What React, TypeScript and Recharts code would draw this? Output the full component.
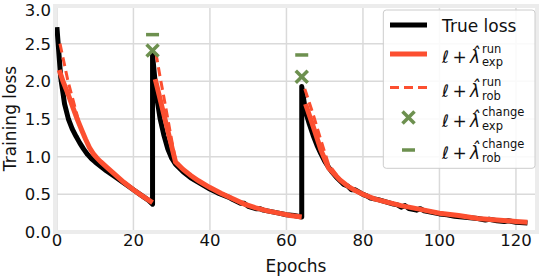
import React from 'react';
import {
  ComposedChart,
  Line,
  Scatter,
  XAxis,
  YAxis,
  CartesianGrid,
  Legend,
  ReferenceArea,
} from 'recharts';

const RED = '#fc4f30';
const GREEN = '#6d904f';
const FONT = '"DejaVu Sans", sans-serif';

const xTicks = [0, 20, 40, 60, 80, 100, 120];
const yTicks = [0, 0.5, 1, 1.5, 2, 2.5, 3];

// [epoch, loss]
const trueLoss: [number, number][] = [
  [0, 2.72], [1, 2.05], [2, 1.7], [3, 1.5], [4, 1.37], [5, 1.27], [6, 1.18], [7, 1.1], [8, 1.03], [9, 0.975],
  [10, 0.93], [11, 0.89], [12, 0.85], [13, 0.81], [15, 0.74], [17.5, 0.65], [20, 0.56], [22, 0.49], [24, 0.42], [25, 0.37],
  [25, 2.35], [26, 1.82], [27, 1.5], [28, 1.28], [29, 1.1], [30, 0.98], [31, 0.9], [33, 0.8], [35, 0.72],
  [37, 0.66], [40, 0.57], [42, 0.52], [43, 0.5], [44, 0.48], [45, 0.46], [46, 0.43], [48, 0.38], [49, 0.38],
  [50, 0.34], [52, 0.31], [53, 0.31], [54, 0.29], [56, 0.27], [58, 0.25], [60, 0.23], [62, 0.22], [64, 0.2],
  [64, 1.93], [65, 1.6], [66, 1.43], [67, 1.28], [68, 1.15], [69, 1.04], [70, 0.94], [71, 0.86], [72, 0.79],
  [73, 0.73], [74, 0.68], [75, 0.63], [76, 0.61], [77, 0.56], [78, 0.56], [79, 0.53], [80, 0.5], [81, 0.48],
  [82, 0.45], [84, 0.43], [86, 0.4], [88, 0.37], [89, 0.36], [90, 0.33], [91, 0.35], [92, 0.31], [94, 0.29],
  [95, 0.31], [96, 0.28], [98, 0.26], [100, 0.24], [102, 0.23], [104, 0.21], [106, 0.2], [108, 0.19],
  [110, 0.18], [112, 0.16], [113, 0.17], [115, 0.15], [117, 0.14], [118, 0.15], [120, 0.13], [123, 0.12],
];

const runExp: [number, number | null][] = [
  [0.6, 2.15], [1.6, 2.0], [3, 1.82], [4.2, 1.65], [5.3, 1.5], [6.5, 1.35], [7.5, 1.23], [8.5, 1.12],
  [9.5, 1.04], [10.5, 0.98], [11.5, 0.93], [13, 0.86], [15, 0.77],
  [17.5, 0.66], [20, 0.56], [22, 0.49], [25, 0.39],
  [25.3, null],
  [25.7, 2.03], [28, 1.55], [31, 0.93], [33, 0.83], [35, 0.75], [37, 0.68], [40, 0.59], [43, 0.51],
  [46, 0.44], [49, 0.37], [52, 0.32], [55, 0.28], [58, 0.25], [61, 0.22], [64, 0.2],
  [64.4, null],
  [65, 1.7], [67, 1.4], [69, 1.09], [71, 0.85], [74, 0.69], [76, 0.61], [78, 0.55], [80, 0.5], [83, 0.44],
  [86, 0.4], [90, 0.35], [93, 0.32], [96, 0.29], [100, 0.25], [105, 0.22], [110, 0.18], [115, 0.16],
  [120, 0.14], [123, 0.13],
];

const runRob: [number, number | null][] = [
  [0.8, 2.5], [2.9, 2.0], [5.7, 1.47], [6.5, 1.35], [7.5, 1.23], [8.5, 1.12], [9.5, 1.04], [10.5, 0.98],
  [11.5, 0.93], [13, 0.86], [15, 0.77], [17.5, 0.66], [20, 0.56], [22, 0.49], [25, 0.39],
  [25.3, null],
  [25.9, 2.37], [27, 2.05], [28, 1.78], [29, 1.5], [30, 1.22], [31, 0.95], [33, 0.83], [35, 0.75],
  [37, 0.68], [40, 0.59], [43, 0.51], [46, 0.44], [49, 0.37], [52, 0.32], [55, 0.28], [58, 0.25],
  [61, 0.22], [64, 0.2],
  [64.4, null],
  [64.8, 1.9], [67, 1.56], [69, 1.22], [71, 0.9], [74, 0.7], [76, 0.61], [78, 0.55], [80, 0.5], [83, 0.44],
  [86, 0.4], [90, 0.35], [93, 0.32], [96, 0.29], [100, 0.25], [105, 0.22], [110, 0.18], [115, 0.16],
  [120, 0.14], [123, 0.13],
];

const changeExp: [number, number][] = [[25, 2.41], [64, 2.06]];
const changeRob: [number, number][] = [[25, 2.62], [64, 2.35]];

const toPts = (arr: [number, number | null][]) => arr.map(([x, y]) => ({ x, y }));

const XMark = (props: any) => {
  const { cx, cy } = props;
  const s = 6;
  return (
    <g stroke={GREEN} strokeWidth={3.5}>
      <line x1={cx - s} y1={cy - s} x2={cx + s} y2={cy + s} />
      <line x1={cx - s} y1={cy + s} x2={cx + s} y2={cy - s} />
    </g>
  );
};

const HMark = (props: any) => {
  const { cx, cy } = props;
  return <line x1={cx - 6.5} y1={cy} x2={cx + 6.5} y2={cy} stroke={GREEN} strokeWidth={3.5} />;
};

const LamText = ({ y, sup, sub }: { y: number; sup: string; sub: string }) => (
  <g fontFamily={FONT} fill="#111">
    <text x={60} y={y} fontSize={17}>
      <tspan fontStyle="italic">ℓ</tspan>
      <tspan>{'\u2009+\u2009'}</tspan>
      <tspan fontStyle="italic">λ̂</tspan>
    </text>
    <text x={100} y={y - 10.5} fontSize={11.5}>{sup}</text>
    <text x={100} y={y + 3} fontSize={11.5}>{sub}</text>
  </g>
);

const LegendBox = () => (
  <svg width={156} height={162} style={{ display: 'block' }}>
    <rect x={1.3} y={1} width={151.7} height={158.3} rx={3} fill="#ffffff" fillOpacity={0.85} stroke="#cccccc" strokeWidth={1} />
    <line x1={8} y1={16} x2={45} y2={16} stroke="#000" strokeWidth={5} />
    <text x={60} y={22.7} fontSize={17} fontFamily={FONT} fill="#111">True loss</text>
    <line x1={8} y1={45} x2={45} y2={45} stroke={RED} strokeWidth={5} />
    <LamText y={54} sup="run" sub="exp" />
    <line x1={8} y1={78.5} x2={45} y2={78.5} stroke={RED} strokeWidth={3} strokeDasharray="9 5" />
    <LamText y={87.5} sup="run" sub="rob" />
    <XMark cx={26.5} cy={108.5} />
    <LamText y={117.7} sup="change" sub="exp" />
    <HMark cx={26.5} cy={141} />
    <LamText y={149.5} sup="change" sub="rob" />
  </svg>
);

const YLabel = () => (
  <text
    x={15.5}
    y={118.5}
    transform="rotate(-90 15.5 118.5)"
    textAnchor="middle"
    fontSize={17}
    fontFamily={FONT}
    fill="#111"
  >
    Training loss
  </text>
);

export default function App() {
  return (
    <div style={{ position: 'absolute', left: 0, top: 0 }}>
      <ComposedChart width={542} height={276} margin={{ top: 6, right: 5, bottom: 0, left: 0 }}>
        <ReferenceArea x1={-0.5} x2={125.5} y1={0} y2={3} fill="none" stroke="#ececec" strokeWidth={4} ifOverflow="visible" />
        <CartesianGrid stroke="#dadada" strokeWidth={1.5} />
        <XAxis
          type="number"
          dataKey="x"
          domain={[-0.5, 125.5]}
          ticks={xTicks}
          allowDataOverflow
          height={44}
          axisLine={false}
          tickLine={false}
          tickSize={0}
          tickMargin={2}
          tick={{ fontSize: 16.5, fontFamily: FONT, fill: '#111' }}
          label={{ value: 'Epochs', position: 'insideBottom', offset: 4, fontSize: 17, fontFamily: FONT, fill: '#111' }}
        />
        <YAxis
          type="number"
          dataKey="y"
          domain={[0, 3]}
          ticks={yTicks}
          allowDataOverflow
          width={55}
          axisLine={false}
          tickLine={false}
          tickSize={0}
          tickMargin={4}
          tickFormatter={(v: number) => v.toFixed(1)}
          tick={{ fontSize: 16.5, fontFamily: FONT, fill: '#111' }}
          label={() => <YLabel />}
        />
        <Line data={toPts(trueLoss)} dataKey="y" stroke="#000" strokeWidth={5} dot={false} activeDot={false} isAnimationActive={false} strokeLinejoin="round" />
        <Line data={toPts(runExp)} dataKey="y" stroke={RED} strokeWidth={5} dot={false} activeDot={false} isAnimationActive={false} connectNulls={false} />
        <Line data={toPts(runRob)} dataKey="y" stroke={RED} strokeWidth={3} strokeDasharray="9 5" dot={false} activeDot={false} isAnimationActive={false} connectNulls={false} />
        <Scatter data={toPts(changeExp)} dataKey="y" shape={XMark} isAnimationActive={false} />
        <Scatter data={toPts(changeRob)} dataKey="y" shape={HMark} isAnimationActive={false} />
        <Legend
          layout="vertical"
          align="center"
          verticalAlign="middle"
          content={() => <LegendBox />}
          wrapperStyle={{ position: 'absolute', left: 382, top: 9, width: 156, height: 162 }}
        />
      </ComposedChart>
    </div>
  );
}
